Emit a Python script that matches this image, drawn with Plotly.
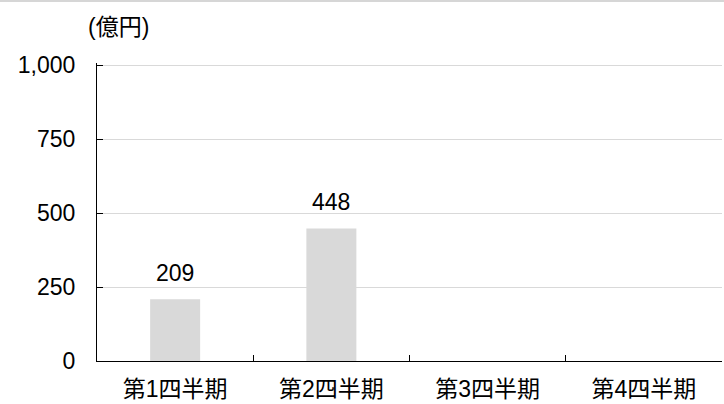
import plotly.graph_objects as go

categories = ["第1四半期", "第2四半期", "第3四半期", "第4四半期"]
values = [209, 448, None, None]
value_labels = ["209", "448", "", ""]
y_ticks = [0, 250, 500, 750, 1000]
y_tick_labels = ["0", "250", "500", "750", "1,000"]
unit_label = "(億円)"

FONT = "Arial, 'Liberation Sans', 'Noto Sans CJK JP', sans-serif"
FS = 23

fig = go.Figure()
fig.add_trace(go.Bar(
    x=categories, y=values,
    marker=dict(color="#d9d9d9", line=dict(width=0)),
    width=0.32,
    hoverinfo="skip",
))

annotations = []
for c, v, t in zip(categories, values, value_labels):
    if v is None:
        continue
    annotations.append(dict(x=c, y=v, text=t, showarrow=False, xref="x", yref="y",
                            yanchor="middle", yshift=26,
                            font=dict(size=FS, color="#000000", family=FONT)))
annotations.append(dict(x=-0.018, y=1.12, xref="paper", yref="paper", text=unit_label,
                        showarrow=False, xanchor="left", yanchor="middle",
                        font=dict(size=FS, color="#000000", family=FONT)))

fig.update_layout(
    width=724, height=404,
    margin=dict(l=97, r=2, t=63, b=40),
    paper_bgcolor="white", plot_bgcolor="white",
    font=dict(family=FONT, size=FS, color="#000000"),
    showlegend=False,
    bargap=0.68,
    annotations=annotations,
    shapes=[dict(type="line", xref="paper", yref="paper", x0=-0.2, x1=1.2,
                 y0=1 + 62.5 / 301, y1=1 + 62.5 / 301,
                 line=dict(color="#c8c8c8", width=1.5))],
)
fig.update_xaxes(
    type="category", showline=True, linecolor="#000000", linewidth=1,
    ticks="inside", ticklen=6, tickcolor="#000000", tickson="boundaries",
    showgrid=False, tickfont=dict(size=FS, color="#000000", family=FONT),
    ticklabelstandoff=7,
)
fig.update_yaxes(
    range=[0, 1007], tickvals=y_ticks, ticktext=y_tick_labels,
    showline=True, linecolor="#000000", linewidth=1,
    ticks="inside", ticklen=6, tickcolor="#000000", tickwidth=1,
    showgrid=True, gridcolor="#d9d9d9", gridwidth=1,
    zeroline=False,
    tickfont=dict(size=FS, color="#000000", family=FONT),
    ticklabelstandoff=16,
)

fig.write_html("out.html", config={"displayModeBar": False},
               post_script="document.body.style.margin='0';document.body.style.overflow='hidden';")
